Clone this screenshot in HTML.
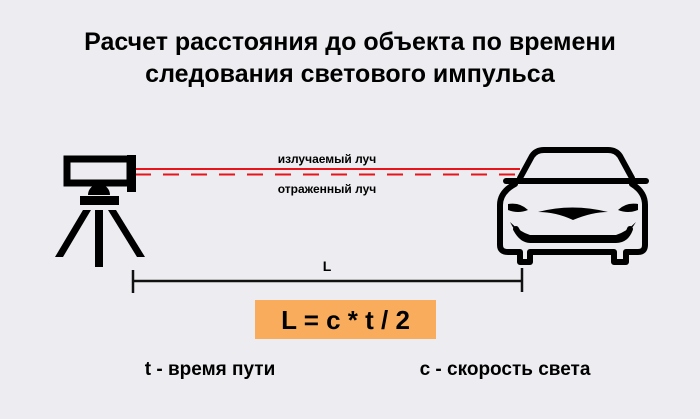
<!DOCTYPE html>
<html><head><meta charset="utf-8"><style>
body{margin:0;width:700px;height:414px;background:#ededf1;overflow:hidden;font-family:"Liberation Sans","DejaVu Sans",sans-serif}
</style></head><body>
<svg width="700" height="414" viewBox="0 0 700 414" xmlns="http://www.w3.org/2000/svg">
<rect width="700" height="414" fill="#ededf1"/>
<g font-family="'Liberation Sans','DejaVu Sans',sans-serif" font-weight="bold" fill="#000" text-anchor="middle">
<text x="350" y="50" font-size="25">Расчет расстояния до объекта по времени</text>
<text x="350" y="82" font-size="25">следования светового импульса</text>
<text x="327" y="163" font-size="12">излучаемый луч</text>
<text x="327" y="193" font-size="12">отраженный луч</text>
<text x="327" y="271" font-size="14">L</text>
<text x="210" y="375" font-size="19">t - время пути</text>
<text x="505" y="375" font-size="19">c - скорость света</text>
</g>
<!-- beams -->
<line x1="135" y1="169" x2="520" y2="169" stroke="#e8141c" stroke-width="2"/>
<line x1="135" y1="174.5" x2="520" y2="174.5" stroke="#e8141c" stroke-width="2" stroke-dasharray="16,12"/>
<!-- tripod -->
<g fill="#000">
<rect x="67" y="159" width="63" height="24" fill="none" stroke="#000" stroke-width="7"/>
<rect x="127" y="155" width="9" height="37"/>
<path d="M88 195 A11 11 0 0 1 110 195 Z"/>
<rect x="80" y="196" width="39" height="9"/>
<polygon points="83,210 91,210 63,257 55,257"/>
<rect x="95" y="210" width="8" height="57"/>
<polygon points="108,210 116,210 145,257 137,257"/>
</g>
<!-- car -->
<g fill="none" stroke="#000" stroke-width="6" stroke-linejoin="round" stroke-linecap="round">
<path d="M520 178 L532 156 Q536 150 544 150 L608 150 Q616 150 620 156 L632 178"/>
<path d="M506 181 L646 181"/>
<path d="M515 184 Q500 192 500 205 L500 245 Q500 252 508 252 L520 252 L520 262 L530 262 L530 252 L614 252 L614 262 L626 262 L626 252 L638 252 Q645 252 645 245 L645 205 Q645 192 632 184"/>
<path d="M516 229 Q522 240 530 240 L616 240 Q626 240 630 229"/>
</g>
<g fill="#000">
<path d="M508 204 Q520 202 528 210 Q518 214 508 210 Z"/>
<path d="M638 204 Q626 202 618 210 Q628 214 638 210 Z"/>
<path d="M538 212 Q572 203 608 212 Q592 212 573 220 Q556 212 538 212 Z"/>
<path d="M510 222 Q520 232 530 235 L616 235 Q626 232 636 222 Q626 238 616 242 L530 242 Q518 238 510 222 Z"/>
</g>
<!-- dimension -->
<g stroke="#111" stroke-width="2.5">
<line x1="133" y1="281" x2="522" y2="281"/>
<line x1="133" y1="270" x2="133" y2="293"/>
<line x1="522" y1="268" x2="522" y2="292"/>
</g>
<rect x="255" y="300" width="181" height="39" fill="#f9ad5c"/>
<text x="345.5" y="329" font-family="'Liberation Sans','DejaVu Sans',sans-serif" font-weight="bold" font-size="26" text-anchor="middle" fill="#000">L = c * t / 2</text>
</svg>
</body></html>
